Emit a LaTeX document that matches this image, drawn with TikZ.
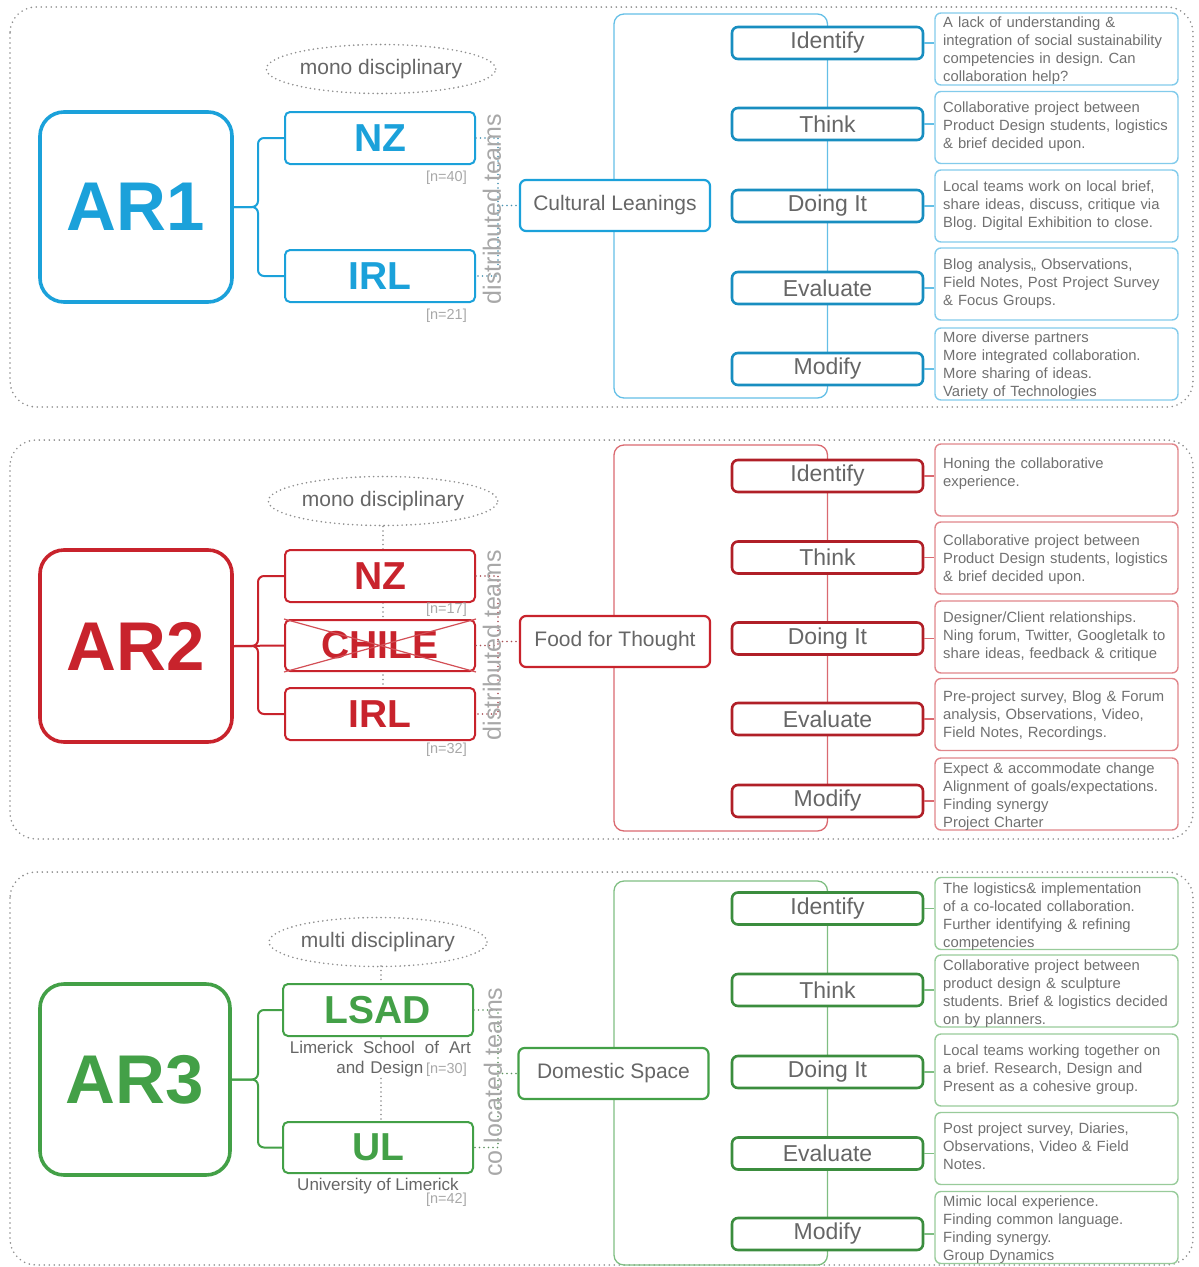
\documentclass[tikz,border=0pt]{standalone}
\usepackage{fontspec}
\setmainfont{Liberation Sans}
\usetikzlibrary{shapes.geometric,calc}
\frenchspacing

\definecolor{arblue}{HTML}{1BA1DA}
\definecolor{arred}{HTML}{C8232C}
\definecolor{argreen}{HTML}{43A047}
\definecolor{labelgray}{HTML}{666666}
\definecolor{bodygray}{HTML}{707070}
\definecolor{softgray}{HTML}{A8A8A8}
\definecolor{dotgray}{HTML}{8E8E8E}

\begin{document}
\begin{tikzpicture}[x=1pt,y=-1pt,
  frame/.style={draw=dotgray, line width=1.8pt, dash pattern=on 0pt off 5pt, line cap=round, rounded corners=26pt},
  dots/.style={draw=#1, line width=1.8pt, dash pattern=on 0pt off 4.5pt, line cap=round},
  arbox/.style={draw=#1, line width=3.6pt, rounded corners=24pt, minimum width=192pt, minimum height=190pt,
    inner sep=0pt, text=#1, font=\fontsize{69}{69}\selectfont\bfseries},
  teambox/.style={draw=#1, line width=2pt, rounded corners=5pt, fill=white, minimum width=190pt, minimum height=52pt,
    inner sep=0pt, text=#1, font=\fontsize{39}{39}\selectfont\bfseries},
  projbox/.style={draw=#1, line width=2.2pt, rounded corners=6pt, fill=white, minimum width=190pt, minimum height=51pt,
    inner sep=0pt, text=labelgray, font=\fontsize{21}{21}\selectfont},
  stepbox/.style={draw=#1!88!black, line width=2.6pt, rounded corners=6pt, fill=white, minimum width=191pt, minimum height=32pt,
    inner sep=0pt, text=labelgray, font=\fontsize{23}{23}\selectfont},
  descbox/.style={draw=#1!55!white, line width=1.4pt, rounded corners=6pt, minimum width=243pt, minimum height=72pt, inner sep=0pt},
  desctext/.style={anchor=base west, text width=250pt, align=left, inner sep=0pt, text=bodygray, font=\fontsize{14.8}{18}\selectfont},
  trunk/.style={draw=#1!68!white, line width=1.3pt, rounded corners=10pt},
  twig/.style={draw=#1!68!white, line width=1.3pt},
  bracket/.style={draw=#1, line width=2pt, rounded corners=6pt},
  ovalnote/.style={ellipse, draw=dotgray, line width=1.8pt, dash pattern=on 0pt off 4.5pt, line cap=round,
    minimum width=218pt, minimum height=49pt, inner sep=0pt, text=labelgray, font=\fontsize{21}{21}\selectfont},
  nlabel/.style={anchor=east, inner sep=0pt, text=softgray, font=\fontsize{14.5}{14.5}\selectfont},
  teamtag/.style={rotate=90, inner sep=0pt, text=softgray, font=\fontsize{25}{25}\selectfont},
  caption/.style={inner sep=0pt, text=labelgray, font=\fontsize{17}{20}\selectfont}
]
\useasboundingbox (0,0) rectangle (1199,1267);

% dotted frames round the three action-research cycles
\draw[frame] (10,7) rectangle (1193,407);
\draw[frame] (10,440) rectangle (1193,839);
\draw[frame] (10,872) rectangle (1193,1265);

% ================= AR1 =================
\draw[trunk=arblue] (614,14) rectangle (827.5,398);
\node[arbox=arblue] (ar1) at (136,207) {AR1};
\node[ovalnote] (md1) at (381,69) {mono disciplinary};
\node[teambox=arblue] (nz1) at (380,138) {NZ};
\node[teambox=arblue] (irl1) at (380,276) {IRL};
\coordinate (b1) at (258,207);
\draw[bracket=arblue] (ar1.east) -- (b1) |- (nz1.west);
\draw[bracket=arblue] (ar1.east) -- (b1) |- (irl1.west);
\node[nlabel] at (467,178) {[n=40]};
\node[nlabel] at (467,316) {[n=21]};
\node[projbox=arblue] (cl) at (615,205.5) {Cultural Leanings};
\coordinate (j1) at (498,205.5);
\draw[dots=arblue!55!gray] (nz1.east) -| (j1) |- (irl1.east);
\draw[dots=arblue!55!gray] (j1) -- (cl.west);
\node[teamtag] at (492,209) {distributed teams};

\foreach \lab/\sy/\dy [count=\i] in {Identify/43/49, Think/124/127.5, Doing It/206/206, Evaluate/288/284, Modify/369/364} {
  \node[stepbox=arblue] (s1-\i) at (827.5,\sy) {\lab};
  \node[descbox=arblue] (d1-\i) at (1056.5,\dy) {};
  \draw[twig=arblue] (s1-\i.east) -- (s1-\i.east -| d1-\i.west);
}
\node[desctext] at (943,27) {A lack of understanding \&\\integration of social sustainability\\competencies in design. Can\\collaboration help?};
\node[desctext] at (943,112) {Collaborative project between\\Product Design students, logistics\\\& brief decided upon.};
\node[desctext] at (943,191) {Local teams work on local brief,\\share ideas, discuss, critique via\\Blog. Digital Exhibition to close.};
\node[desctext] at (943,269) {Blog analysis,, Observations,\\Field Notes, Post Project Survey\\\& Focus Groups.};
\node[desctext] at (943,342) {More diverse partners\\More integrated collaboration.\\More sharing of ideas.\\Variety of Technologies};

% ================= AR2 =================
\draw[trunk=arred] (614,445) rectangle (827.5,831);
\node[arbox=arred, minimum height=192pt] (ar2) at (136,646) {AR2};
\node[ovalnote] (md2) at (383,501) {mono disciplinary};
\draw[dots=dotgray] (md2.south) -- (md2.south |- 0,688);
\node[teambox=arred] (nz2) at (380,576) {NZ};
\node[teambox=arred, minimum height=51pt] (chile) at (380,645.5) {CHILE};
\node[teambox=arred] (irl2) at (380,714) {IRL};
\draw[twig=arred, line width=1.2pt, draw=arred!80!white] (chile.north west) -- (chile.south east) (chile.south west) -- (chile.north east);
\coordinate (b2) at (258,646);
\draw[bracket=arred] (ar2.east) -- (b2) |- (nz2.west);
\draw[bracket=arred] (ar2.east) -- (b2) |- (irl2.west);
\draw[bracket=arred] (ar2.east) -- (chile.west);
\node[nlabel] at (467,610) {[n=17]};
\node[nlabel] at (467,750) {[n=32]};
\node[projbox=arred] (fft) at (615,641.5) {Food for Thought};
\coordinate (j2) at (498,641.5);
\draw[dots=arred!55!gray] (nz2.east) -| (j2) |- (irl2.east);
\draw[dots=arred!55!gray] (chile.east) -- (chile.east -| j2);
\draw[dots=arred!55!gray] (j2) -- (fft.west);
\node[teamtag] at (492,645) {distributed teams};

\foreach \lab/\sy/\dy [count=\i] in {Identify/476/480, Think/557.5/558, Doing It/638.5/637, Evaluate/719/714.5, Modify/801/794} {
  \node[stepbox=arred] (s2-\i) at (827.5,\sy) {\lab};
  \node[descbox=arred] (d2-\i) at (1056.5,\dy) {};
  \draw[twig=arred] (s2-\i.east) -- (s2-\i.east -| d2-\i.west);
}
\node[desctext] at (943,468) {Honing the collaborative\\experience.};
\node[desctext] at (943,545) {Collaborative project between\\Product Design students, logistics\\\& brief decided upon.};
\node[desctext] at (943,622) {Designer/Client relationships.\\Ning forum, Twitter, Googletalk to\\share ideas, feedback \& critique};
\node[desctext] at (943,701) {Pre-project survey, Blog \& Forum\\analysis, Observations, Video,\\Field Notes, Recordings.};
\node[desctext] at (943,773) {Expect \& accommodate change\\Alignment of goals/expectations.\\Finding synergy\\Project Charter};

% ================= AR3 =================
\draw[trunk=argreen] (614,881) rectangle (827.5,1265);
\node[arbox=argreen, minimum width=190pt, minimum height=191pt] (ar3) at (135,1079.5) {AR3};
\node[ovalnote] (md3) at (378,942) {multi disciplinary};
\draw[dots=dotgray] (381,966) -- (381,1122);
\node[teambox=argreen] (lsad) at (378,1010) {LSAD};
\node[teambox=argreen, minimum height=51pt] (ul) at (378,1147.5) {UL};
\coordinate (b3) at (258,1079.5);
\draw[bracket=argreen] (ar3.east) -- (b3) |- (lsad.west);
\draw[bracket=argreen] (ar3.east) -- (b3) |- (ul.west);
\node[caption, fill=white, anchor=base east, text width=181pt, align=right] (lsadcap) at (471,1053)
  {\hbox to 181pt{Limerick\hfill School\hfill of\hfill Art}\\and Design\,{\fontsize{14.5}{14.5}\selectfont\color{softgray}[n=30]}\hspace*{4pt}};
\node[caption, anchor=base] (ulcap) at (378,1190) {University of Limerick};
\node[nlabel] at (467,1200) {[n=42]};
\node[projbox=argreen] (ds) at (613.5,1073.5) {Domestic Space};
\coordinate (j3) at (498,1073.5);
\draw[dots=argreen!55!gray] (lsad.east) -| (j3) |- (ul.east);
\draw[dots=argreen!55!gray] (j3) -- (ds.west);
\node[teamtag] at (493,1082) {co located teams};

\foreach \lab/\sy/\dy [count=\i] in {Identify/908.5/913.5, Think/990/991, Doing It/1072/1070, Evaluate/1153.5/1148.5, Modify/1234/1227.5} {
  \node[stepbox=argreen] (s3-\i) at (827.5,\sy) {\lab};
  \node[descbox=argreen] (d3-\i) at (1056.5,\dy) {};
  \draw[twig=argreen] (s3-\i.east) -- (s3-\i.east -| d3-\i.west);
}
\node[desctext] at (943,893) {The logistics\& implementation\\of a co-located collaboration.\\Further identifying \& refining\\competencies};
\node[desctext] at (943,970) {Collaborative project between\\product design \& sculpture\\students. Brief \& logistics decided\\on by planners.};
\node[desctext] at (943,1055) {Local teams working together on\\a brief. Research, Design and\\Present as a cohesive group.};
\node[desctext] at (943,1133) {Post project survey, Diaries,\\Observations, Video \& Field\\Notes.};
\node[desctext] at (943,1206) {Mimic local experience.\\Finding common language.\\Finding synergy.\\Group Dynamics};
\end{tikzpicture}
\end{document}
